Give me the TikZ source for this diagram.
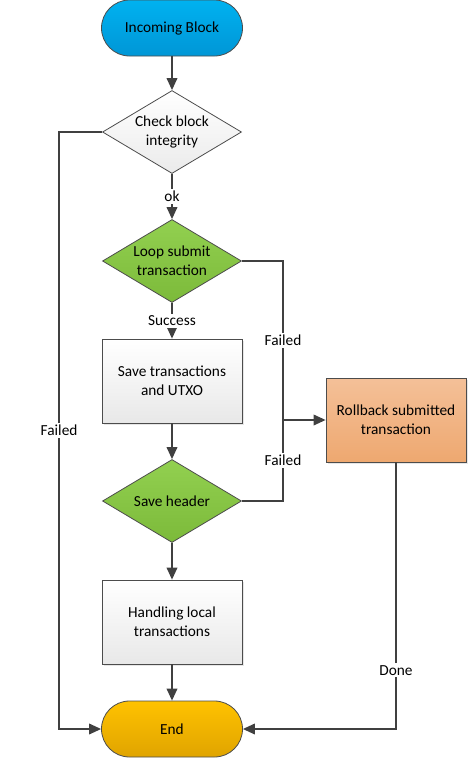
\documentclass[tikz,border=0pt]{standalone}
\usepackage{fontspec}
\setmainfont{Carlito}
\usetikzlibrary{shapes.geometric,arrows.meta,shadows}

\begin{document}
\begin{tikzpicture}[x=0.75pt,y=-0.75pt,
  font=\fontsize{11.5}{14.3}\selectfont,
  line/.style={draw=black!75,line width=1.1pt},
  arr/.style={line,-{Triangle[length=9pt,width=8pt]}},
  lbl/.style={fill=white,inner sep=1.5pt},
  term/.style={draw=black!70,line width=0.6pt,rounded corners=21pt,minimum width=105.75pt,minimum height=42pt,align=center},
  dec/.style={diamond,draw=black!70,line width=0.6pt,inner sep=0pt,aspect=1.67,minimum width=104.25pt,minimum height=62.25pt,align=center},
  proc/.style={draw=black!70,line width=0.6pt,minimum width=105pt,minimum height=63pt,align=center,drop shadow={opacity=0.2,shadow xshift=1.2pt,shadow yshift=-1.2pt}},
  greenfill/.style={top color={rgb,255:red,146;green,208;blue,80},bottom color={rgb,255:red,124;green,186;blue,58}},
  grayfill/.style={top color=white,bottom color=black!9}]
\useasboundingbox (0,0) rectangle (472,761);
\node[term,top color={rgb,255:red,0;green,178;blue,240},bottom color={rgb,255:red,0;green,150;blue,214}] (inc) at (172,28) {Incoming Block};
\node[dec,top color=white,bottom color=black!8] (chk) at (172,132) {Check block\\integrity};
\node[dec,greenfill] (loop) at (172,261) {Loop submit\\transaction};
\node[proc,grayfill] (savetx) at (172,381) {Save transactions\\and UTXO};
\node[dec,greenfill] (hdr) at (172,501) {Save header};
\node[proc,grayfill] (handle) at (172,622) {Handling local\\transactions};
\node[proc,top color={rgb,255:red,244;green,192;blue,152},bottom color={rgb,255:red,238;green,168;blue,112}] (rb) at (396,420) {Rollback submitted\\transaction};
\node[term,top color={rgb,255:red,255;green,194;blue,0},bottom color={rgb,255:red,224;green,164;blue,0}] (end) at (172,729) {End};
\coordinate (jn) at (283,420);

\draw[arr] (inc) -- (chk);
\draw[arr] (chk) -- node[lbl] {ok} (loop);
\draw[arr] (loop) -- node[lbl] {Success} (savetx);
\draw[arr] (savetx) -- (hdr);
\draw[arr] (hdr) -- (handle);
\draw[arr] (handle) -- (end);
\draw[arr] (chk.west) -- ++(-43,0) |- node[lbl,pos=0.25] {Failed} (end.west);
\draw[line] (loop.east) -| node[lbl,pos=0.75] {Failed} (jn);
\draw[line] (hdr.east) -| node[lbl,pos=0.75] {Failed} (jn);
\draw[arr] (jn) -- (rb);
\draw[arr] (rb.south) |- node[lbl,pos=0.39] {Done} (end.east);
\end{tikzpicture}
\end{document}
